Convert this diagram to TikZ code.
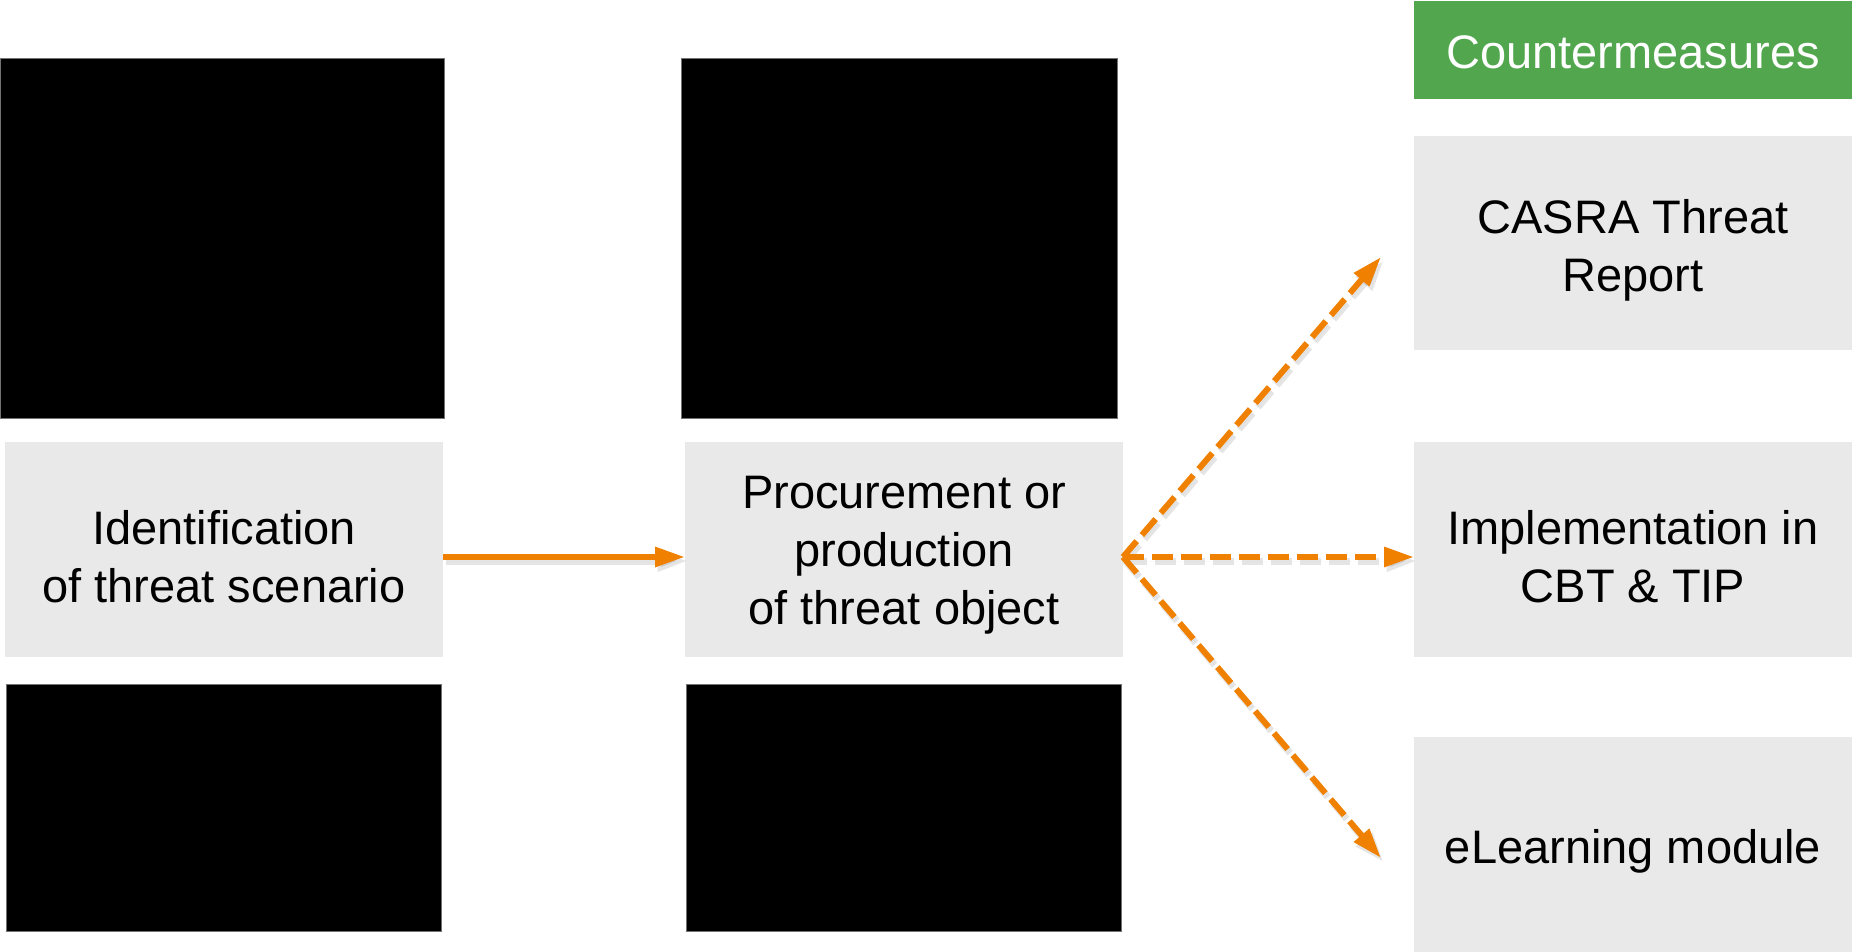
\documentclass[tikz,border=0pt]{standalone}
\usepackage{fontspec}
\setmainfont{Liberation Sans}
\usetikzlibrary{arrows.meta}
\definecolor{panelgray}{RGB}{233,233,233}
\definecolor{cmgreen}{RGB}{82,167,78}
\definecolor{flow}{RGB}{240,128,0}
\begin{document}
\begin{tikzpicture}[x=1pt,y=-1pt,
  photo/.style={rectangle, fill=black, draw=black!55, line width=1pt, inner sep=0pt, outer sep=0pt},
  panel/.style={rectangle, fill=panelgray, inner sep=0pt, outer sep=0pt, minimum width=438pt},
  header/.style={rectangle, fill=cmgreen, inner sep=0pt, outer sep=0pt, minimum width=438pt},
  boxtext/.style={inner sep=0pt, align=center, font=\fontsize{47}{58}\selectfont},
  flowline/.style={draw=flow, line width=6pt, -{Triangle[length=30pt,width=19pt]}},
  flowdash/.style={flowline, dash pattern=on 21pt off 8pt},
  flowshade/.style={draw=black, fill=black, opacity=0.10, line width=7pt,
    -{Triangle[length=30pt,width=20pt]},
    transform canvas={xshift=2.5pt,yshift=-4pt}}]

\fill[white] (0,0) rectangle (1855,952);
\useasboundingbox (0,0) rectangle (1855,952);

% first column
\node[photo, minimum width=444pt, minimum height=359pt] (imgA) at (222,238.5) {};
\node[panel, minimum height=215pt] (scen) at (224,549.5) {};
\node[photo, minimum width=435pt, minimum height=247pt] (imgB) at (223.5,807.5) {};

% second column
\node[photo, minimum width=436pt, minimum height=359pt] (imgC) at (899,238.5) {};
\node[panel, minimum height=215pt] (proc) at (904,549.5) {};
\node[photo, minimum width=435pt, minimum height=247pt] (imgD) at (903.5,807.5) {};

% countermeasures column
\node[header, minimum height=98pt] (cm) at (1633,50) {};
\node[panel, minimum height=214pt] (rep) at (1633,243) {};
\node[panel, minimum height=215pt] (cbt) at (1633,549.5) {};
\node[panel, minimum height=216pt] (elm) at (1633,845) {};

% texts
\node[boxtext, text=white] (cmT) at ([yshift=-2pt]cm.center) {Countermeasures};
\node[boxtext] (scenT) at ([yshift=-7pt]scen.center) {Identification\\of threat scenario};
\node[boxtext] (procT) at ([yshift=-6pt]proc.center) {Procurement or\\production\\of threat object};
\node[boxtext] (repT) at ([yshift=-7pt]rep.center) {CASRA Threat\\Report};
\node[boxtext] (cbtT) at ([yshift=-7pt]cbt.center) {Implementation in\\CBT \& TIP};
\node[boxtext] (elmT) at (1633,851) {eLearning module};

% connector end points
\coordinate (src) at ([yshift=-7.5pt]scen.east);
\coordinate (dst) at ([yshift=-7.5pt]proc.west);
\coordinate (fork) at ([yshift=-7.5pt]proc.east);
\coordinate (toRep) at (1381,257);
\coordinate (toCbt) at ([yshift=-7.5pt]cbt.west);
\coordinate (toElm) at (1381,858);

% shadows
\draw[flowshade] (src) -- (dst);
\draw[flowshade, dash pattern=on 21pt off 8pt] (fork) -- (toRep);
\draw[flowshade, dash pattern=on 21pt off 8pt] (fork) -- (toCbt);
\draw[flowshade, dash pattern=on 21pt off 8pt] (fork) -- (toElm);

% connectors
\draw[flowline] (src) -- (dst);
\draw[flowdash] (fork) -- (toRep);
\draw[flowdash] (fork) -- (toCbt);
\draw[flowdash] (fork) -- (toElm);
\end{tikzpicture}
\end{document}
